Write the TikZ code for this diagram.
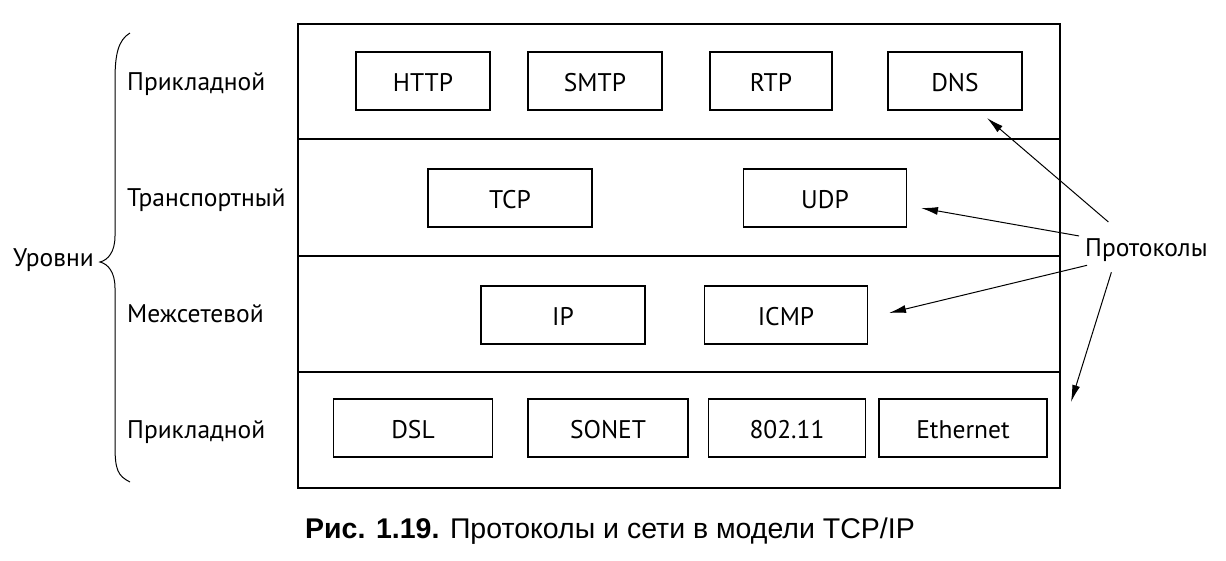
\documentclass[tikz,border=0pt]{standalone}
\usepackage{fontspec}
\setmainfont{PT Sans}
\newfontfamily\capfont{Liberation Sans}
\usetikzlibrary{arrows.meta}

\tikzset{
    proto/.style={draw, line width=1.3pt, minimum height=58pt, inner sep=0pt, text height=20pt, text depth=0pt},
    lbl/.style={inner sep=0pt, anchor=base west},
    pointer/.style={-{Latex[length=17pt,width=8pt]}, line width=1pt},
}

\begin{document}
\begin{tikzpicture}[x=1pt, y=-1pt, font=\fontsize{25.5}{30}\selectfont]
    \useasboundingbox (0,0) rectangle (1226,560);

    % the four layers
    \draw[line width=1.5pt] (298,24) rectangle (1060,488);
    \foreach \y in {139,256,372}
        \draw[line width=1.5pt] (298,\y) -- (1060,\y);

    \node[lbl] (app)   at (127,90)  {Прикладной};
    \node[lbl] (trans) at (127,206) {Транспортный};
    \node[lbl] (inet)  at (127,322) {Межсетевой};
    \node[lbl] (link)  at (127,438) {Прикладной};

    \node[lbl, anchor=base east] (levels) at (94,266) {Уровни};
    \draw[line width=1pt] (130,33) .. controls (118,40) and (115,55) .. (115,80) -- (115,236)
        .. controls (115,252) and (108,260) .. (100,262)
        .. controls (108,264) and (115,272) .. (115,288) -- (115,446)
        .. controls (115,470) and (118,476) .. (130,482);

    % protocols
    \node[proto, minimum width=134pt] (http)  at (423,81)  {HTTP};
    \node[proto, minimum width=134pt] (smtp)  at (595,81)  {SMTP};
    \node[proto, minimum width=122pt] (rtp)   at (771,81)  {RTP};
    \node[proto, minimum width=134pt] (dns)   at (955,81)  {DNS};
    \node[proto, minimum width=164pt] (tcp)   at (510,198) {TCP};
    \node[proto, minimum width=163pt] (udp)   at (825,198) {UDP};
    \node[proto, minimum width=164pt] (ip)    at (563,315) {IP};
    \node[proto, minimum width=163pt] (icmp)  at (786,315) {ICMP};
    \node[proto, minimum width=159pt] (dsl)   at (413,428) {DSL};
    \node[proto, minimum width=160pt] (sonet) at (608,428) {SONET};
    \node[proto, minimum width=157pt] (wifi)  at (787,428) {802.11};
    \node[proto, minimum width=168pt] (eth)   at (963,428) {Ethernet};

    \node[lbl] (prot) at (1085,256) {Протоколы};
    \coordinate (dnsTip)  at (987,118);
    \coordinate (udpTip)  at (921,208);
    \coordinate (icmpTip) at (889,313);
    \coordinate (linkTip) at (1071,402);
    \draw[pointer] ([xshift=-38pt,yshift=16pt]prot.north) -- (dnsTip);
    \draw[pointer] ([xshift=-6pt,yshift=2pt]prot.north west) -- (udpTip);
    \draw[pointer] ([xshift=2pt,yshift=-4pt]prot.south west) -- (icmpTip);
    \draw[pointer] ([xshift=-35pt,yshift=-11pt]prot.south) -- (linkTip);

    \node[anchor=base, inner sep=0pt, font=\capfont\fontsize{28.5}{32}\selectfont] (caption) at (610,538)
        {\textbf{Рис. 1.19.} Протоколы и сети в модели TCP/IP};
\end{tikzpicture}
\end{document}
